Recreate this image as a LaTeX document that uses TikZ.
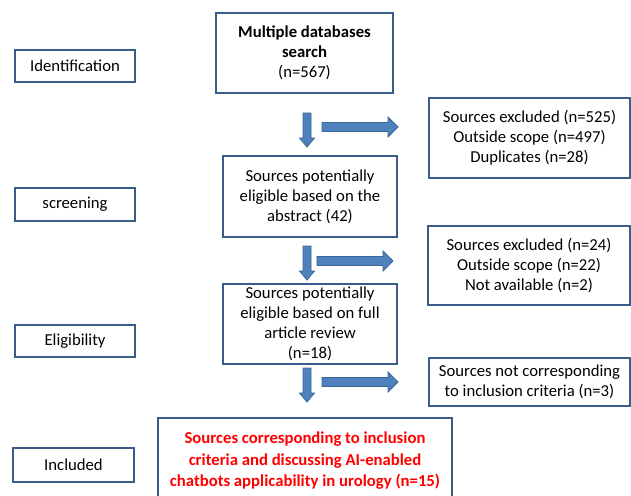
\documentclass[tikz,border=0pt]{standalone}
\usepackage{fontspec}
\setmainfont{Carlito}
\definecolor{boxline}{HTML}{385D8A}
\definecolor{arrfill}{HTML}{4F81BD}
\definecolor{arrline}{HTML}{3A6596}
\definecolor{redtext}{HTML}{FF0000}
\begin{document}
\begin{tikzpicture}[x=1pt,y=-1pt,
  every node/.style={font=\fontsize{16.7}{20}\selectfont, align=center, inner sep=0pt},
  box/.style={draw=boxline, line width=1.6pt, fill=white},
  stagebox/.style={box, minimum width=120pt, minimum height=32pt},
  blockarrow/.style={fill=arrfill, draw=arrline, line width=0.8pt, line join=miter},
  pics/downarrow/.style={code={
    \filldraw[blockarrow] (-4,0) -- (4,0) -- (4,25) -- (7.5,25) -- (0,34) -- (-7.5,25) -- (-4,25) -- cycle;}},
  pics/rightarrow/.style={code={
    \filldraw[blockarrow] (0,-4.5) -- (66,-4.5) -- (66,-10) -- (76,0) -- (66,10) -- (66,4.5) -- (0,4.5) -- cycle;}}
]
\useasboundingbox (0,0) rectangle (631,495);
\begin{scope}
\clip (0,0) rectangle (631,495);
% stage labels
\node[stagebox] (ident) at (75,66) {Identification};
\node[stagebox, minimum height=33pt] (screen) at (75,204.5) {screening};
\node[stagebox] (elig) at (75,341) {Eligibility};
\node[stagebox, minimum width=121pt, minimum height=34pt] (incl) at (73.5,465) {Included};
% main column
\node[box, minimum width=177pt, minimum height=80pt] (search) at (304.5,53)
  {\textbf{Multiple databases}\\\textbf{search}\\(n=567)};
\node[box, minimum width=174pt, minimum height=81pt] (abstract) at (310,196.5)
  {Sources potentially\\eligible based on the\\abstract (42)};
\node[box, minimum width=174pt, minimum height=80pt] (full) at (310,324)
  {Sources potentially\\eligible based on full\\article review\\(n=18)};
\node[box, minimum width=294pt, minimum height=100pt, anchor=north] (final) at (305,417) {};
\node[text=redtext, font=\bfseries\fontsize{16.7}{21.5}\selectfont] (finaltext) at (305,461)
  {Sources corresponding to inclusion\\criteria and discussing AI-enabled\\chatbots applicability in urology (n=15)};
% exclusion boxes
\node[box, minimum width=201pt, minimum height=80pt] (excl1) at (529.5,138)
  {Sources excluded (n=525)\\Outside scope (n=497)\\Duplicates (n=28)};
\node[box, minimum width=202pt, minimum height=79pt] (excl2) at (529,265.5)
  {Sources excluded (n=24)\\Outside scope (n=22)\\Not available (n=2)};
\node[box, minimum width=201pt, minimum height=48pt] (excl3) at (529.5,382)
  {Sources not corresponding\\to inclusion criteria (n=3)};
% block arrows
\pic at (307,113) {downarrow};
\pic at (322,127) {rightarrow};
\pic at (307,246) {downarrow};
\pic at (317,261) {rightarrow};
\pic at (307,368) {downarrow};
\pic at (322,382) {rightarrow};
\end{scope}
\end{tikzpicture}
\end{document}
